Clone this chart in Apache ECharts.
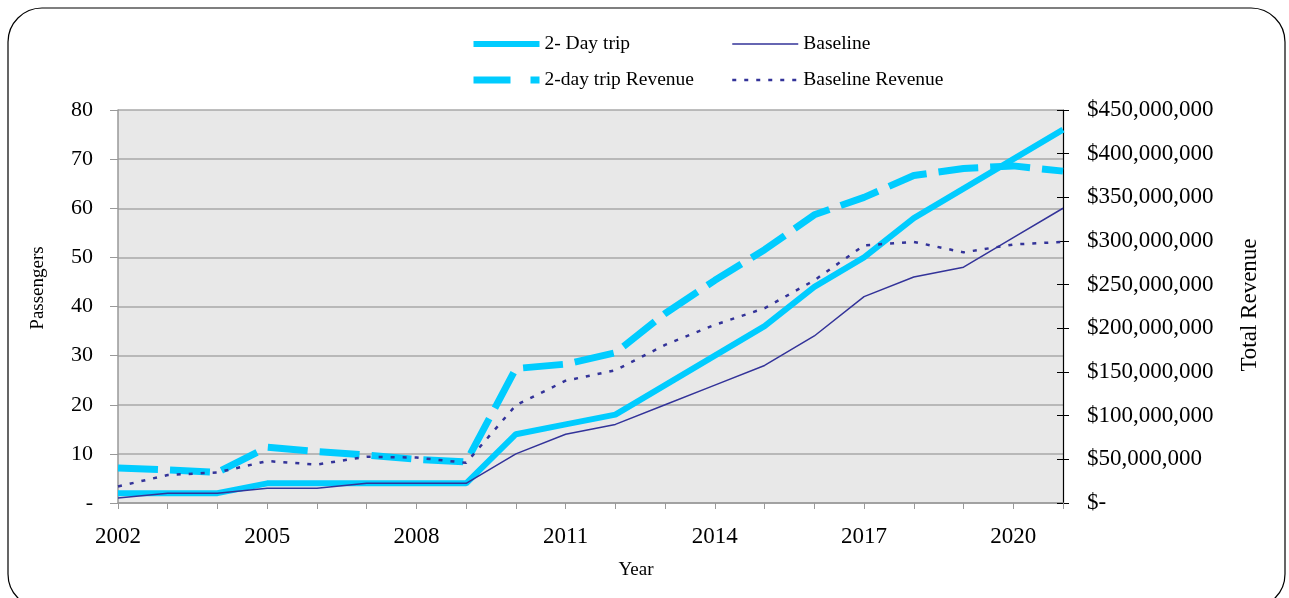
<!DOCTYPE html>
<html><head><meta charset="utf-8">
<script src="https://cdn.jsdelivr.net/npm/echarts@6/dist/echarts.min.js"></script>
<style>html,body{margin:0;padding:0;background:#fff}#c{width:1289px;height:598px}</style>
</head><body><div id="c"></div>
<script>
const years = ['2002','2003','2004','2005','2006','2007','2008','2009','2010','2011','2012','2013','2014','2015','2016','2017','2018','2019','2020','2021'];
const tripPassengers = [2,2,2,4,4,4,4,4,14,16,18,24,30,36,44,50,58,64,70,76];
const baselinePassengers = [1,2,2,3,3,4,4,4,10,14,16,20,24,28,34,42,46,48,54,60];
const tripRevenueM = [40,38,35,64,59,55,50,47,154,159,172,217,255,290,330,350,375,383,386,380];
const baselineRevenueM = [19,32,35,48,44,53,52,46,112,140,152,181,204,223,255,295,299,287,296,299];
const tripRevenue = tripRevenueM.map(v => v * 1e6);
const baselineRevenue = baselineRevenueM.map(v => v * 1e6);

const FONT = 'Liberation Serif';
const CYAN = '#00CCFF';
const NAVY = '#333399';
const chart = echarts.init(document.getElementById('c'));
const money = v => v === 0 ? '$-' : '$' + v.toLocaleString('en-US');
const legendText = {fontFamily: FONT, fontSize: 19.5, color: '#000'};
const legendCommon = {
  orient: 'vertical', top: 34, padding: 0, itemWidth: 66, itemHeight: 14, itemGap: 16,
  textStyle: legendText, itemStyle: {opacity: 0}, lineStyle: {width: 'inherit'}
};
chart.setOption({
  animation: false,
  backgroundColor: '#fff',
  graphic: [
    {type: 'rect', shape: {x: 8, y: 8, width: 1277, height: 600, r: 34}, style: {fill: 'none', stroke: '#000', lineWidth: 1.2}, z: -10},
    {type: 'text', x: 636, y: 570, style: {text: 'Year', font: '19px "Liberation Serif"', fill: '#000', textAlign: 'center', textVerticalAlign: 'middle'}},
    {type: 'text', x: 38, y: 288, rotation: Math.PI / 2, style: {text: 'Passengers', font: '19px "Liberation Serif"', fill: '#000', textAlign: 'center', textVerticalAlign: 'middle'}},
    {type: 'text', x: 1250, y: 305, rotation: Math.PI / 2, style: {text: 'Total Revenue', font: '23px "Liberation Serif"', fill: '#000', textAlign: 'center', textVerticalAlign: 'middle'}}
  ],
  legend: [
    Object.assign({}, legendCommon, {left: 470, data: ['2- Day trip', {name: '2-day trip Revenue', lineStyle: {type: [37, 20], width: 7}}]}),
    Object.assign({}, legendCommon, {left: 731, data: ['Baseline', 'Baseline Revenue']})
  ],
  grid: {left: 118, right: 226, top: 110, bottom: 95, show: true, backgroundColor: '#e8e8e8', borderWidth: 0},
  xAxis: {
    type: 'category', data: years, boundaryGap: false,
    axisLine: {lineStyle: {color: '#999', width: 1.5}},
    axisTick: {interval: 0, length: 6, lineStyle: {color: '#999'}},
    axisLabel: {interval: 2, margin: 22, fontFamily: FONT, fontSize: 23, color: '#000'}
  },
  yAxis: [
    {
      type: 'value', min: 0, max: 80, interval: 10, position: 'left',
      axisLine: {show: true, lineStyle: {color: '#999', width: 1.5}},
      axisTick: {show: true, length: 8, lineStyle: {color: '#999'}},
      splitLine: {lineStyle: {color: '#a8a8a8', width: 1.5}},
      axisLabel: {margin: 25, fontFamily: FONT, fontSize: 22, color: '#000', formatter: v => v === 0 ? '-' : String(v)}
    },
    {
      type: 'value', min: 0, max: 450000000, interval: 50000000, position: 'right',
      axisLine: {show: true, lineStyle: {color: '#000', width: 1.2}},
      axisTick: {show: true, length: 6, lineStyle: {color: '#000'}},
      splitLine: {show: false},
      axisLabel: {margin: 24, fontFamily: FONT, fontSize: 23, color: '#000', formatter: money}
    },
    {
      type: 'value', min: 0, max: 450000000, interval: 50000000, position: 'right',
      axisLine: {show: false},
      axisTick: {show: true, inside: true, length: 6, lineStyle: {color: '#000'}},
      splitLine: {show: false}, axisLabel: {show: false}
    }
  ],
  series: [
    {name: '2- Day trip', type: 'line', yAxisIndex: 0, data: tripPassengers, symbol: 'none', z: 4,
     lineStyle: {color: CYAN, width: 6}, itemStyle: {color: CYAN}},
    {name: '2-day trip Revenue', type: 'line', yAxisIndex: 1, data: tripRevenue, symbol: 'none', z: 3,
     lineStyle: {color: CYAN, width: 7, type: [40, 12]}, itemStyle: {color: CYAN}},
    {name: 'Baseline', type: 'line', yAxisIndex: 0, data: baselinePassengers, symbol: 'none', z: 5,
     lineStyle: {color: NAVY, width: 1.5}, itemStyle: {color: NAVY}},
    {name: 'Baseline Revenue', type: 'line', yAxisIndex: 1, data: baselineRevenue, symbol: 'none', z: 5,
     lineStyle: {color: NAVY, width: 2.5, type: [4, 8]}, itemStyle: {color: NAVY}}
  ]
});
</script></body></html>
